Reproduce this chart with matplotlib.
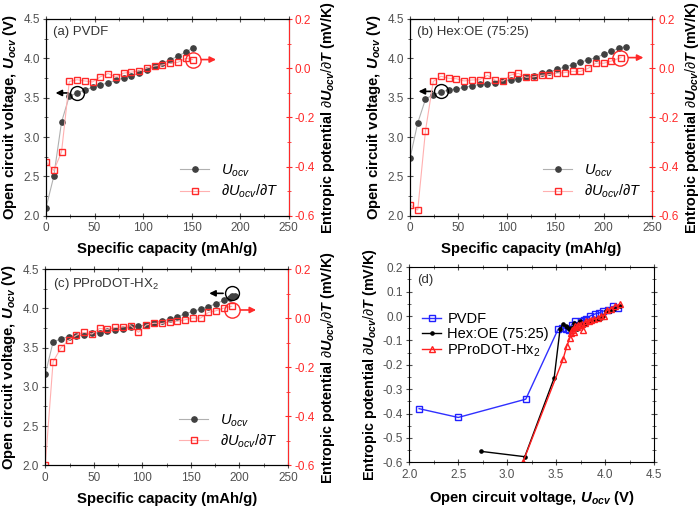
import numpy as np
import matplotlib
matplotlib.use("Agg")
import matplotlib.pyplot as plt
from matplotlib.ticker import MultipleLocator

plt.rcParams['font.family'] = ['Liberation Sans', 'DejaVu Sans']
plt.rcParams['mathtext.fontset'] = 'custom'
plt.rcParams['mathtext.rm'] = 'Liberation Sans'
plt.rcParams['mathtext.it'] = 'Liberation Sans:italic'
plt.rcParams['mathtext.bf'] = 'Liberation Sans:bold'
plt.rcParams['mathtext.bfit'] = 'Liberation Sans:italic:bold'

# ---- data ----
# (a) PVDF
pvdf_cap = [0, 8, 16, 24, 32, 40, 48, 56, 64, 72, 80, 88, 96, 104, 112, 120, 128, 136, 144, 151]
pvdf_u = [2.10, 2.50, 3.19, 3.52, 3.56, 3.60, 3.63, 3.66, 3.69, 3.72, 3.75, 3.78, 3.81, 3.85,
          3.90, 3.94, 3.98, 4.03, 4.08, 4.13]
pvdf_dudt = [-0.380, -0.416, -0.341, -0.054, -0.047, -0.052, -0.056, -0.035, -0.022, -0.036,
             -0.020, -0.016, -0.011, 0.001, 0.009, 0.013, 0.020, 0.024, 0.040, 0.035]

# (b) Hex:OE (75:25)
hex_cap = [0, 8, 16, 24, 32, 40, 48, 56, 64, 72, 80, 88, 96, 104, 112, 120, 128, 136, 144,
           152, 160, 168, 176, 184, 192, 200, 208, 216, 223]
hex_u = [2.73, 3.18, 3.48, 3.54, 3.57, 3.60, 3.61, 3.63, 3.65, 3.67, 3.68, 3.69, 3.71, 3.73,
         3.74, 3.76, 3.78, 3.81, 3.83, 3.86, 3.89, 3.92, 3.95, 3.98, 4.01, 4.05, 4.09, 4.13, 4.15]
hex_dcap = [0, 8, 16, 24, 32, 40, 48, 56, 64, 72, 80, 88, 96, 104, 112, 120, 128, 136, 144,
            152, 160, 168, 176, 184, 192, 200, 208, 218]
hex_dudt = [-0.555, -0.577, -0.254, -0.054, -0.033, -0.041, -0.043, -0.052, -0.048, -0.047,
            -0.029, -0.049, -0.052, -0.028, -0.021, -0.037, -0.035, -0.029, -0.026, -0.020,
            -0.018, -0.013, -0.013, -0.001, 0.021, 0.020, 0.029, 0.043]

# (c) PProDOT-HX2
ppro_cap = [0, 8, 16, 24, 32, 40, 48, 56, 64, 72, 80, 88, 96, 104, 112, 120, 128, 136, 144,
            152, 160, 168, 176, 184, 190, 192, 195]
ppro_u = [3.16, 3.57, 3.61, 3.64, 3.65, 3.66, 3.68, 3.69, 3.71, 3.72, 3.74, 3.76, 3.77, 3.79,
          3.81, 3.84, 3.86, 3.89, 3.93, 3.96, 3.99, 4.02, 4.06, 4.10, 4.13, 4.15, 4.16]
ppro_dcap = [0, 8, 16, 24, 32, 40, 48, 56, 64, 72, 80, 88, 96, 104, 112, 120, 128, 136, 144,
             152, 160, 168, 176, 184, 192]
ppro_dudt = [-0.600, -0.178, -0.122, -0.091, -0.070, -0.058, -0.065, -0.042, -0.046, -0.038,
             -0.036, -0.031, -0.058, -0.028, -0.021, -0.022, -0.016, -0.013, -0.007, 0.000,
             0.000, 0.023, 0.030, 0.041, 0.048]

RED = '#ff2a2a'
GRAY_TXT = '#505050'
TICK_FS = 8.5
LAB_FS = 10.7
RLAB_FS = 10.4

u_lab = r'Open circuit voltage, $\mathbfit{U}_{\mathbfit{ocv}}$ (V)'
s_lab = r'Entropic potential $\partial\mathbfit{U}_{\mathbfit{ocv}}/\partial\mathbfit{T}$ (mV/K)'

fig = plt.figure(figsize=(7, 5.09), dpi=100)
W, H = 700, 509


def ax_at(left, top, right, bottom):
    return fig.add_axes([left / W, 1 - bottom / H, (right - left) / W, (bottom - top) / H])


def cap_panel(box, cap, u, dcap, dudt, label, circ_u, arr_u, circ_s, arr_s):
    ax = ax_at(*box)
    ax2 = ax.twinx()
    ax.plot(cap, u, color='#b0b0b0', lw=0.8, marker='o', ms=3.8,
            mfc='#404040', mec='#404040', label=r'$U_{ocv}$', zorder=3)
    ax2.plot(dcap, dudt, color='#ffb0b0', lw=0.8, marker='s', ms=4.3,
             mfc='none', mec=RED, mew=1.0, label=r'$\partial U_{ocv}/\partial T$')
    ax.set_xlim(0, 250)
    ax.set_ylim(2.0, 4.5)
    ax2.set_ylim(-0.6, 0.2)
    ax.xaxis.set_major_locator(MultipleLocator(50))
    ax.xaxis.set_minor_locator(MultipleLocator(25))
    ax.yaxis.set_major_locator(MultipleLocator(0.5))
    ax.yaxis.set_minor_locator(MultipleLocator(0.25))
    ax2.yaxis.set_major_locator(MultipleLocator(0.2))
    ax2.yaxis.set_minor_locator(MultipleLocator(0.1))
    ax.tick_params(which='both', direction='inout', top=True, labelsize=TICK_FS,
                   colors=GRAY_TXT, pad=2)
    ax.tick_params(which='major', length=5)
    ax.tick_params(which='minor', length=3)
    ax2.tick_params(which='both', direction='inout', colors=RED, labelsize=TICK_FS, pad=2)
    ax2.tick_params(which='major', length=5)
    ax2.tick_params(which='minor', length=3)
    ax2.spines['right'].set_color(RED)
    ax.set_yticklabels(['%.1f' % v for v in ax.get_yticks()])
    ax2.set_yticklabels(['%.1f' % v for v in ax2.get_yticks()])
    ax.set_xlabel('Specific capacity (mAh/g)', fontsize=LAB_FS, fontweight='bold', labelpad=6)
    ax.set_ylabel(u_lab, fontsize=LAB_FS, fontweight='bold', labelpad=3)
    ax2.set_ylabel(s_lab, fontsize=RLAB_FS, fontweight='bold', labelpad=3)
    ax.text(0.03, 0.965, label, transform=ax.transAxes, fontsize=9.5, color='#333333',
            va='top', ha='left')
    # circles and arrows showing which axis
    ax.plot(*circ_u, marker='o', ms=10, mfc='none', mec='black', mew=1.0, zorder=5)
    ax.annotate('', xy=arr_u, xytext=(circ_u[0] - 6, arr_u[1]),
                arrowprops=dict(arrowstyle='-|>', color='black', lw=1.2, mutation_scale=9))
    ax2.plot(*circ_s, marker='o', ms=11, mfc='none', mec=RED, mew=1.0, zorder=5)
    ax2.annotate('', xy=arr_s, xytext=(circ_s[0] + 6, arr_s[1]),
                 arrowprops=dict(arrowstyle='-|>', color=RED, lw=1.2, mutation_scale=9))
    h1, l1 = ax.get_legend_handles_labels()
    h2, l2 = ax2.get_legend_handles_labels()
    ax2.legend(h1 + h2, l1 + l2, loc='lower right', bbox_to_anchor=(0.98, 0.05),
               frameon=False, fontsize=10.5, handlelength=2.0, labelspacing=0.25,
               borderaxespad=0)
    return ax


cap_panel((46, 19, 288.7, 215.7), pvdf_cap, pvdf_u, pvdf_cap, pvdf_dudt, '(a) PVDF',
          (32, 3.56), (7, 3.56), (151, 0.035), (178, 0.035))
cap_panel((410, 19, 652, 215.7), hex_cap, hex_u, hex_dcap, hex_dudt, '(b) Hex:OE (75:25)',
          (32, 3.58), (6, 3.58), (217, 0.043), (244, 0.043))
cap_panel((45.3, 269, 288, 465.3), ppro_cap, ppro_u, ppro_dcap, ppro_dudt,
          r'(c) PProDOT-HX$_2$', (192, 4.19), (166, 4.19), (192, 0.033), (220, 0.033))

# (d) entropic potential vs OCV
axd = ax_at(409.3, 267.3, 654, 462.3)
hex_u_d = hex_u[:27] + hex_u[28:]
ppro_u_d = ppro_u[:24] + ppro_u[25:26]
axd.plot(pvdf_u, pvdf_dudt, color='#3030ff', lw=1.0, marker='s', ms=4.3, mfc='none',
         mec='#2020ff', mew=1.0, label='PVDF')
axd.plot(hex_u_d, hex_dudt, color='black', lw=1.0, marker='o', ms=2.3, label='Hex:OE (75:25)')
axd.plot(ppro_u_d, ppro_dudt, color='#ff2020', lw=1.0, marker='^', ms=5, mfc='none',
         mec='#ff2020', mew=1.0, label=r'PProDOT-Hx$_2$')
axd.set_xlim(2.0, 4.5)
axd.set_ylim(-0.6, 0.2)
axd.xaxis.set_major_locator(MultipleLocator(0.5))
axd.xaxis.set_minor_locator(MultipleLocator(0.25))
axd.yaxis.set_major_locator(MultipleLocator(0.1))
axd.yaxis.set_minor_locator(MultipleLocator(0.05))
axd.tick_params(which='both', direction='inout', top=True, right=True, labelsize=TICK_FS,
                colors=GRAY_TXT, pad=2)
axd.tick_params(which='major', length=5)
axd.tick_params(which='minor', length=3)
axd.set_xticklabels(['%.1f' % v for v in axd.get_xticks()])
axd.set_yticklabels(['%.1f' % v for v in axd.get_yticks()])
axd.set_xlabel(r'Open circuit voltage, $\mathbfit{U}_{\mathbfit{ocv}}$ (V)', fontsize=LAB_FS,
               fontweight='bold', labelpad=6)
axd.set_ylabel(s_lab, fontsize=RLAB_FS, fontweight='bold', labelpad=3)
axd.text(0.03, 0.965, '(d)', transform=axd.transAxes, fontsize=9.5, color='#333333',
         va='top', ha='left')
axd.legend(loc='upper left', bbox_to_anchor=(0.03, 0.80), frameon=False, fontsize=10.5,
           handlelength=1.3, labelspacing=0.08, handletextpad=0.4, borderaxespad=0)

fig.savefig('out.png', dpi=100)
